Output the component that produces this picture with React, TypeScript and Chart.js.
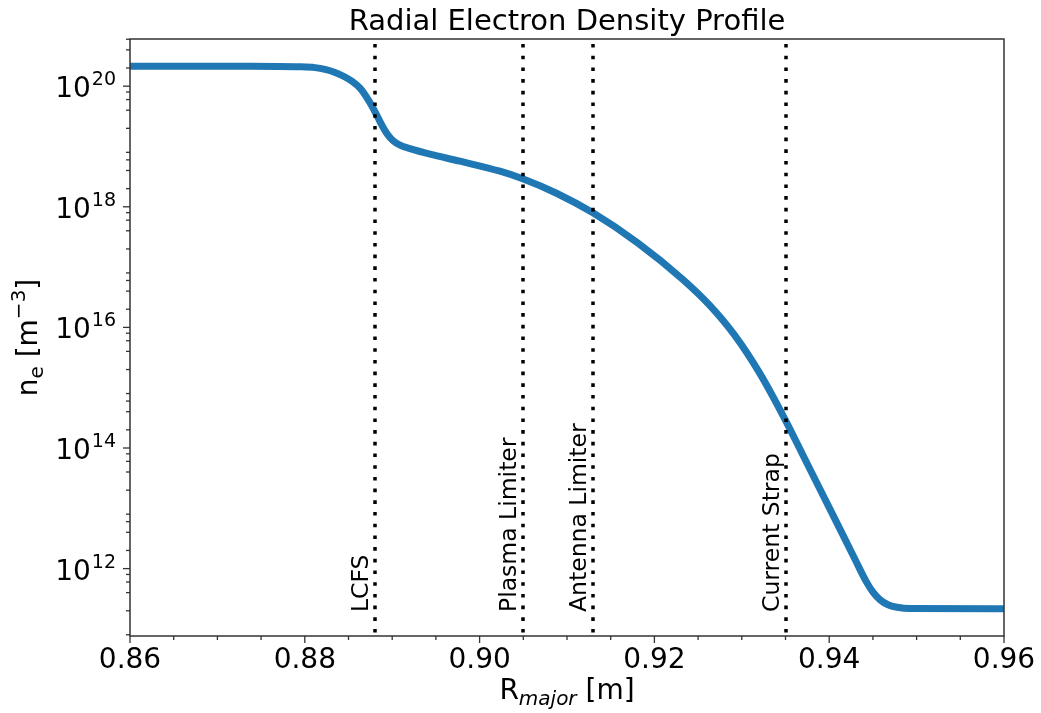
import React, { useEffect, useRef } from "react";
import { Chart, registerables } from "chart.js";

Chart.register(...registerables);

// ---- Data ----
const radius = [
  0.86, 0.87373, 0.87945, 0.88117, 0.88231, 0.88346, 0.8846, 0.88552, 0.88632, 0.887,
  0.88769, 0.88838, 0.88895, 0.88952, 0.89009, 0.89089, 0.89204, 0.89432, 0.89776, 0.90233,
  0.90485, 0.90886, 0.91297, 0.91812, 0.92327, 0.92636, 0.92922, 0.93208, 0.93494, 0.93723,
  0.94009, 0.94295, 0.94421, 0.94501, 0.94581, 0.94673, 0.94776, 0.94924, 0.96,
];
const density = [
  2.15e20, 2.15e20, 2.1e20, 2.03e20, 1.9e20, 1.69e20, 1.42e20, 1.17e20, 9.26e19, 6.82e19,
  4.66e19, 3.0e19, 2.09e19, 1.54e19, 1.25e19, 1.05e19, 9.2e18, 7.45e18, 5.7e18, 3.89e18,
  2.94e18, 1.66e18, 7.93e17, 2.5e17, 6.22e16, 2.3e16, 7.3e15, 1.71e15, 2.99e14, 6.5e13,
  9.7e12, 1.43e12, 6.2e11, 4.06e11, 3.05e11, 2.52e11, 2.29e11, 2.17e11, 2.15e11,
];

const markerNames = ["LCFS", "Plasma Limiter", "Antenna Limiter", "Current Strap"];
const markerR = [0.888, 0.905, 0.913, 0.935];

const xTicks = [0.86, 0.88, 0.9, 0.92, 0.94, 0.96];
const xTickLabels = ["0.86", "0.88", "0.90", "0.92", "0.94", "0.96"];
const xMinorStep = 0.005;
const yExponents = [12, 14, 16, 18, 20];
const yMinorMultipliers = [2, 4, 6, 8];

const TITLE = "Radial Electron Density Profile";
const FONT = "'DejaVu Sans', sans-serif";

export default function App() {
  const ref = useRef<HTMLCanvasElement | null>(null);

  useEffect(() => {
    const canvas = ref.current;
    if (!canvas) return;

    const dMin = Math.min(...density);
    const dMax = Math.max(...density);
    const span = Math.log10(dMax) - Math.log10(dMin);
    const yMin = Math.pow(10, Math.log10(dMin) - 0.05 * span);
    const yMax = Math.pow(10, Math.log10(dMax) + 0.05 * span);

    const decor = {
      id: "decor",
      afterDatasetsDraw(chart: any) {
        const { ctx, chartArea } = chart;
        const xs = chart.scales.x;
        ctx.save();
        ctx.beginPath();
        ctx.rect(chartArea.left, chartArea.top - 2, chartArea.right - chartArea.left, chartArea.bottom - chartArea.top + 4);
        ctx.clip();
        ctx.strokeStyle = "#000";
        ctx.lineWidth = 3.5;
        ctx.setLineDash([3.6, 8.1]);
        ctx.lineCap = "butt";
        markerR.forEach((r) => {
          const px = Math.round(xs.getPixelForValue(r));
          ctx.beginPath();
          ctx.moveTo(px, chartArea.top + 5);
          ctx.lineTo(px, chartArea.bottom + 2);
          ctx.stroke();
        });
        ctx.restore();

        ctx.save();
        ctx.fillStyle = "#000";
        ctx.font = `23.5px ${FONT}`;
        ctx.textAlign = "left";
        ctx.textBaseline = "alphabetic";
        markerR.forEach((r, i) => {
          const px = xs.getPixelForValue(r);
          ctx.save();
          ctx.translate(px - 7, 612);
          ctx.rotate(-Math.PI / 2);
          ctx.fillText(markerNames[i], 0, 0);
          ctx.restore();
        });
        ctx.restore();
      },
      afterDraw(chart: any) {
        const { ctx, chartArea } = chart;
        const xs = chart.scales.x;
        const ys = chart.scales.y;
        const { left, right, top, bottom } = chartArea;
        ctx.save();
        // frame
        ctx.strokeStyle = "#333";
        ctx.lineWidth = 1.5;
        ctx.strokeRect(left, top, right - left, bottom - top);

        // x ticks
        ctx.lineWidth = 1.3;
        for (let v = 0.86; v <= 0.96 + 1e-9; v += xMinorStep) {
          const px = xs.getPixelForValue(v);
          const isMajor = xTicks.some((t) => Math.abs(t - v) < 1e-6);
          ctx.beginPath();
          ctx.moveTo(px, bottom);
          ctx.lineTo(px, bottom + (isMajor ? 7 : 4));
          ctx.stroke();
        }
        // y ticks
        for (let e = 10; e <= 21; e++) {
          yMinorMultipliers.forEach((m) => {
            const v = m * Math.pow(10, e);
            if (v < yMin || v > yMax) return;
            const py = ys.getPixelForValue(v);
            ctx.beginPath();
            ctx.moveTo(left, py);
            ctx.lineTo(left - 4, py);
            ctx.stroke();
          });
        }
        yExponents.forEach((e) => {
          const py = ys.getPixelForValue(Math.pow(10, e));
          ctx.beginPath();
          ctx.moveTo(left, py);
          ctx.lineTo(left - 7, py);
          ctx.stroke();
        });

        // x tick labels
        ctx.fillStyle = "#000";
        ctx.font = `28px ${FONT}`;
        ctx.textAlign = "center";
        ctx.textBaseline = "alphabetic";
        xTicks.forEach((t, i) => {
          ctx.fillText(xTickLabels[i], xs.getPixelForValue(t), 668);
        });

        // y tick labels 10^e
        yExponents.forEach((e) => {
          const py = ys.getPixelForValue(Math.pow(10, e));
          const sup = String(e);
          ctx.font = `19px ${FONT}`;
          const supW = ctx.measureText(sup).width;
          const rightEdge = left - 14;
          ctx.textAlign = "left";
          ctx.fillText(sup, rightEdge - supW, py - 1);
          ctx.font = `28px ${FONT}`;
          ctx.textAlign = "right";
          ctx.fillText("10", rightEdge - supW - 1, py + 11);
        });

        // title
        ctx.font = `29px ${FONT}`;
        ctx.textAlign = "center";
        ctx.fillText(TITLE, (left + right) / 2, 30);

        // x label: R_major [m]
        {
          const parts = [
            { t: "R", f: `28px ${FONT}`, dy: 0 },
            { t: "major", f: `italic 20px ${FONT}`, dy: 6 },
            { t: " [m]", f: `28px ${FONT}`, dy: 0 },
          ];
          let w = 0;
          parts.forEach((p) => {
            ctx.font = p.f;
            w += ctx.measureText(p.t).width;
          });
          let x = (left + right) / 2 - w / 2;
          ctx.textAlign = "left";
          parts.forEach((p) => {
            ctx.font = p.f;
            ctx.fillText(p.t, x, 699 + p.dy);
            x += ctx.measureText(p.t).width;
          });
        }

        // y label: n_e [m^-3]
        {
          const parts = [
            { t: "n", f: `28px ${FONT}`, dy: 0 },
            { t: "e", f: `20px ${FONT}`, dy: 6 },
            { t: " [m", f: `28px ${FONT}`, dy: 0 },
            { t: "\u22123", f: `20px ${FONT}`, dy: -12 },
            { t: "]", f: `28px ${FONT}`, dy: 0 },
          ];
          let w = 0;
          parts.forEach((p) => {
            ctx.font = p.f;
            w += ctx.measureText(p.t).width;
          });
          ctx.save();
          ctx.translate(37, (top + bottom) / 2);
          ctx.rotate(-Math.PI / 2);
          let x = -w / 2;
          ctx.textAlign = "left";
          parts.forEach((p) => {
            ctx.font = p.f;
            ctx.fillText(p.t, x, p.dy);
            x += ctx.measureText(p.t).width;
          });
          ctx.restore();
        }
        ctx.restore();
      },
    };

    const chart = new Chart(canvas, {
      type: "line",
      data: {
        datasets: [
          {
            data: radius.map((r, i) => ({ x: r, y: density[i] })),
            borderColor: "#1f77b4",
            borderWidth: 7,
            pointRadius: 0,
            fill: false,
            cubicInterpolationMode: "monotone",
            borderCapStyle: "round",
            borderJoinStyle: "round",
          },
        ],
      },
      options: {
        responsive: false,
        animation: false,
        devicePixelRatio: 1,
        layout: { padding: { top: 39, right: 37, left: 0, bottom: 0 } },
        plugins: { legend: { display: false }, tooltip: { enabled: false }, title: { display: false } },
        scales: {
          x: {
            type: "linear",
            min: 0.86,
            max: 0.96,
            ticks: { display: false },
            grid: { display: false },
            border: { display: false },
            afterFit: (s: any) => {
              s.height = 77;
            },
          },
          y: {
            type: "logarithmic",
            min: yMin,
            max: yMax,
            ticks: { display: false },
            grid: { display: false },
            border: { display: false },
            afterFit: (s: any) => {
              s.width = 130;
            },
          },
        },
      },
      plugins: [decor],
    } as any);

    return () => chart.destroy();
  }, []);

  return (
    <div style={{ position: "fixed", left: 0, top: 0, width: 1041, height: 713, background: "#fff" }}>
      <canvas ref={ref} width={1041} height={713} style={{ display: "block" }} />
    </div>
  );
}
